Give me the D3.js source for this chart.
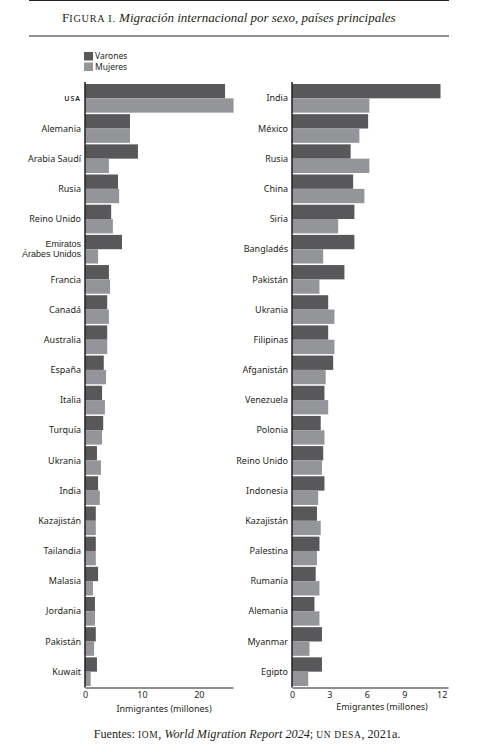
<!DOCTYPE html>
<html lang="es">
  <head>
    <meta charset="UTF-8" />
    <title>Migración internacional por sexo</title>
    <script src="https://cdn.jsdelivr.net/npm/d3@7/dist/d3.min.js"></script>
    <style>
      body {
        margin: 0;
        background-color: #ffffff;
      }
      svg text {
        font-family: "Noto Sans", sans-serif;
        fill: #231f20;
      }
      .serif {
        font-family: "Liberation Serif", "DejaVu Serif", serif;
      }
    </style>
  </head>
  <body>
    <div id="chart"></div>

    <script>
      // Inmigrantes (millones)
      const immCountries = [
        "USA", "Alemania", "Arabia Saudí", "Rusia", "Reino Unido",
        "Emiratos Árabes Unidos", "Francia", "Canadá", "Australia", "España",
        "Italia", "Turquía", "Ukrania", "India", "Kazajistán",
        "Tailandia", "Malasia", "Jordania", "Pakistán", "Kuwait",
      ];
      const immMen = [
        24.6, 7.9, 9.3, 5.8, 4.6, 6.5, 4.2, 3.9, 3.9, 3.3,
        3.0, 3.2, 2.1, 2.3, 1.9, 1.9, 2.3, 1.75, 1.9, 2.1,
      ];
      const immWomen = [
        26.1, 7.9, 4.2, 6.0, 4.9, 2.3, 4.4, 4.2, 3.9, 3.7,
        3.5, 3.0, 2.8, 2.6, 1.9, 1.9, 1.4, 1.75, 1.6, 1.0,
      ];
      const immTicks = [0, 10, 20];

      // Emigrantes (millones)
      const emiCountries = [
        "India", "México", "Rusia", "China", "Siria",
        "Bangladés", "Pakistán", "Ukrania", "Filipinas", "Afganistán",
        "Venezuela", "Polonia", "Reino Unido", "Indonesia", "Kazajistán",
        "Palestina", "Rumanía", "Alemania", "Myanmar", "Egipto",
      ];
      const emiMen = [
        11.9, 6.1, 4.7, 4.9, 5.0, 5.0, 4.2, 2.9, 2.9, 3.3,
        2.6, 2.3, 2.5, 2.6, 2.0, 2.2, 1.9, 1.8, 2.4, 2.4,
      ];
      const emiWomen = [
        6.2, 5.4, 6.2, 5.8, 3.7, 2.5, 2.2, 3.4, 3.4, 2.7,
        2.9, 2.6, 2.4, 2.1, 2.3, 2.0, 2.2, 2.2, 1.4, 1.3,
      ];
      const emiTicks = [0, 3, 6, 9, 12];

      const seriesNames = ["Varones", "Mujeres"];
      const colors = ["#58585a", "#939598"];

      const svg = d3
        .select("#chart")
        .append("svg")
        .attr("width", 499)
        .attr("height", 752);

      // Title block
      svg.append("line")
        .attr("x1", 29).attr("x2", 449)
        .attr("y1", 0.5).attr("y2", 0.5)
        .attr("stroke", "#231f20").attr("stroke-width", 1);
      svg.append("line")
        .attr("x1", 29).attr("x2", 449)
        .attr("y1", 36).attr("y2", 36)
        .attr("stroke", "#231f20").attr("stroke-width", 1);

      const title = svg.append("text")
        .attr("class", "serif")
        .attr("x", 62).attr("y", 22)
        .style("font-size", "13px");
      title.append("tspan").text("F");
      title.append("tspan")
        .style("font-size", "10.2px")
        .style("letter-spacing", "0.8px")
        .text("IGURA I.");
      title.append("tspan").style("font-style", "italic")
        .text(" Migración internacional por sexo, países principales");

      // Legend
      seriesNames.forEach((name, i) => {
        svg.append("rect")
          .attr("x", 84).attr("y", 52 + i * 10.5)
          .attr("width", 9).attr("height", 8.5)
          .attr("fill", colors[i]);
        svg.append("text")
          .attr("x", 95).attr("y", 56.3 + i * 10.5)
          .attr("dy", "0.35em")
          .style("font-size", "8.5px")
          .text(name);
      });

      plotPanel({
        countries: immCountries,
        men: immMen,
        women: immWomen,
        ticks: immTicks,
        max: 26,
        x0: 85,
        x1: 233,
        label: "Inmigrantes (millones)",
        labelX: 164,
        labelY: 709,
      });

      plotPanel({
        countries: emiCountries,
        men: emiMen,
        women: emiWomen,
        ticks: emiTicks,
        max: 12.5,
        x0: 292,
        x1: 448,
        label: "Emigrantes (millones)",
        labelX: 382,
        labelY: 707,
      });

      function plotPanel(p) {
        const top = 82;
        const bottom = 687.5;

        const y = d3.scaleBand()
          .domain(p.countries)
          .range([84, 686])
          .paddingInner(0.05)
          .paddingOuter(0);

        const ySub = d3.scaleBand()
          .domain(seriesNames)
          .range([0, y.bandwidth()]);

        const x = d3.scaleLinear()
          .domain([0, p.max])
          .range([p.x0, p.x1]);

        const g = svg.append("g");

        const rows = p.countries.map((c, i) => ({
          country: c,
          values: [p.men[i], p.women[i]],
        }));

        g.selectAll("g.row")
          .data(rows)
          .enter()
          .append("g")
          .attr("class", "row")
          .attr("transform", (d) => `translate(0,${y(d.country)})`)
          .selectAll("rect")
          .data((d) => d.values.map((v, k) => ({ key: seriesNames[k], v, k })))
          .enter()
          .append("rect")
          .attr("x", x(0))
          .attr("y", (d) => ySub(d.key))
          .attr("width", (d) => x(d.v) - x(0))
          .attr("height", ySub.bandwidth())
          .attr("fill", (d) => colors[d.k]);

        // Country labels
        const labels = g.selectAll("text.country")
          .data(p.countries)
          .enter()
          .append("text")
          .attr("class", "country")
          .attr("x", p.x0 - 4)
          .attr("y", (d) => y(d) + y.bandwidth() / 2)
          .attr("text-anchor", "end")
          .attr("dy", "0.35em")
          .style("font-size", "9px");

        labels.each(function (d) {
          const t = d3.select(this);
          if (d === "USA") {
            t.style("font-size", "7px")
              .style("letter-spacing", "1px")
              .style("font-weight", "600")
              .text(d);
          } else if (d === "Emiratos Árabes Unidos") {
            // two-line label, tighter font so the lines don't collide
            const cy = y(d) + y.bandwidth() / 2;
            t.attr("y", cy - 2).attr("dy", null)
              .style("font-family", '"Liberation Sans", sans-serif')
              .style("font-size", "9px");
            t.append("tspan").attr("x", p.x0 - 4).text("Emiratos");
            t.append("tspan").attr("x", p.x0 - 4).attr("dy", 10.2).text("Árabes Unidos");
          } else {
            t.text(d);
          }
        });

        // Bottom axis
        const xAxis = g.append("g")
          .attr("transform", `translate(0,${bottom})`)
          .call(
            d3.axisBottom(x)
              .tickValues(p.ticks)
              .tickSize(0)
              .tickSizeOuter(0)
              .tickPadding(4)
          );
        xAxis.select(".domain").attr("stroke", "#231f20").attr("stroke-width", 1);
        xAxis.selectAll(".tick text")
          .style("font-size", "9px")
          .style("font-family", '"Noto Sans", sans-serif')
          .attr("fill", "#231f20");

        // Vertical baseline
        g.append("line")
          .attr("x1", x(0)).attr("x2", x(0))
          .attr("y1", top).attr("y2", bottom)
          .attr("stroke", "#231f20")
          .attr("stroke-width", 1.5);

        g.append("text")
          .attr("x", p.labelX)
          .attr("y", p.labelY)
          .attr("text-anchor", "middle")
          .attr("dy", "0.35em")
          .style("font-size", "9px")
          .text(p.label);
      }

      // Footer
      const foot = svg.append("text")
        .attr("class", "serif")
        .attr("x", 247).attr("y", 738)
        .attr("text-anchor", "middle")
        .style("font-size", "12.2px");
      foot.append("tspan").text("Fuentes: ");
      foot.append("tspan").style("font-size", "9.5px").style("letter-spacing", "0.6px").text("IOM");
      foot.append("tspan").text(", ");
      foot.append("tspan").style("font-style", "italic").text("World Migration Report 2024");
      foot.append("tspan").text("; ");
      foot.append("tspan").style("font-size", "9.5px").style("letter-spacing", "0.6px").text("UN DESA");
      foot.append("tspan").text(", 2021a.");
    </script>
  </body>
</html>
